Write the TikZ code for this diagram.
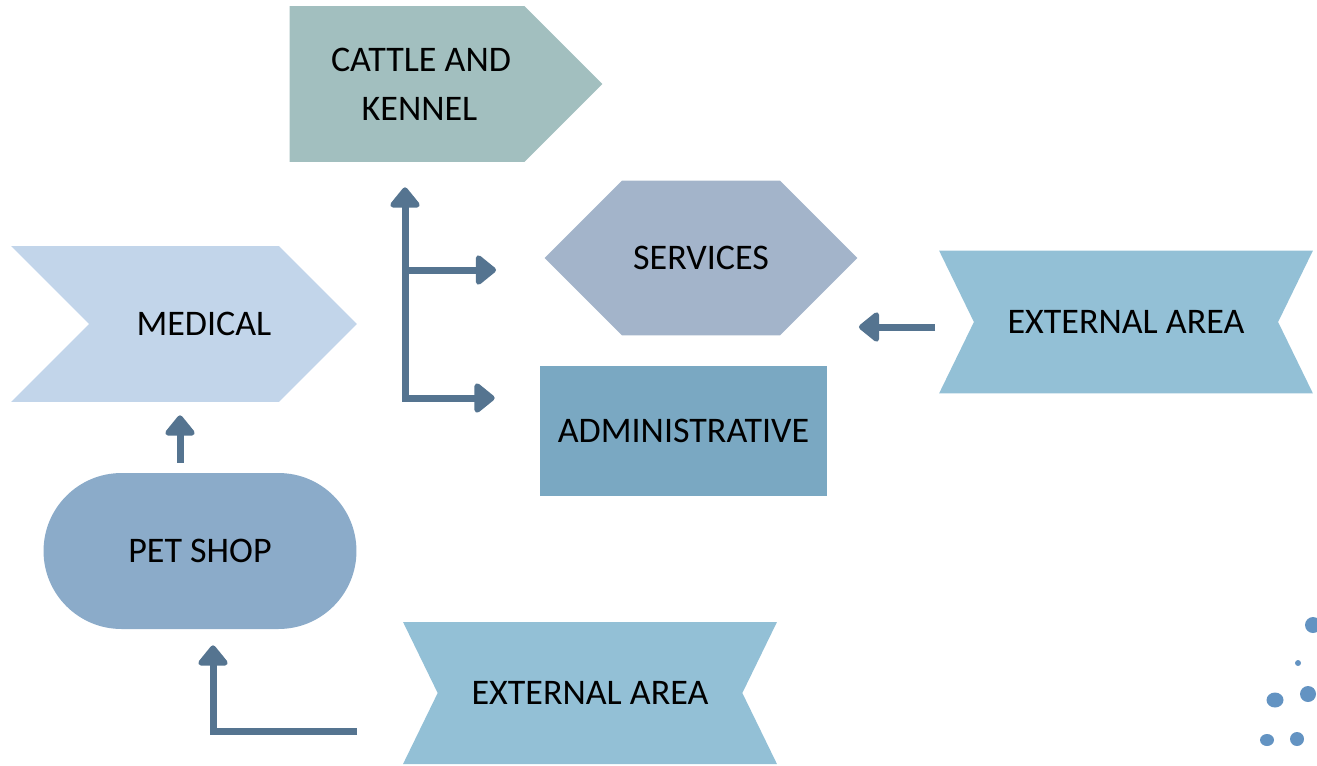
\documentclass[tikz,border=0pt]{standalone}
\usepackage{fontspec}
\setmainfont{Carlito}
\usetikzlibrary{arrows.meta,positioning,shapes.symbols}
\definecolor{cattlecol}{HTML}{A2BFBF}
\definecolor{medcol}{HTML}{C2D5EA}
\definecolor{servcol}{HTML}{A3B4CA}
\definecolor{extcol}{HTML}{93C0D6}
\definecolor{admcol}{HTML}{7AA8C2}
\definecolor{petcol}{HTML}{8BABC9}
\definecolor{arrcol}{HTML}{557490}
\definecolor{dotcol}{HTML}{6393C2}
\tikzset{
  fbox/.style={draw=none, align=center, font=\fontsize{20.5}{28}\selectfont, inner sep=0pt},
  fsig/.style={fbox, shape=signal, signal pointer angle=90, minimum height=3.12cm},
  farr/.style={-{Triangle[length=0.44cm,width=0.68cm,round]}, line width=0.14cm, draw=arrcol},
  farr2/.style={{Triangle[length=0.44cm,width=0.68cm,round]}-{Triangle[length=0.44cm,width=0.68cm,round]}, line width=0.14cm, draw=arrcol}
}
\begin{document}
\begin{tikzpicture}[x=0.02cm, y=-0.02cm]
\useasboundingbox (0,0) rectangle (1317,765);
\node[fsig, fill=cattlecol, signal to=east, minimum width=6.26cm] (cattle) at (407,84) {\hspace*{0.56cm}CATTLE AND\\\hspace*{0.5cm}KENNEL};
\node[fsig, fill=medcol, signal from=west, signal to=east, minimum width=6.92cm] (med) at (184,324) {\hspace*{0.8cm}MEDICAL};
\node[fsig, fill=servcol, signal to=west and east, minimum width=6.26cm, minimum height=3.1cm] (serv) at (701,258) {SERVICES};
\node[fsig, fill=extcol, signal to=nowhere, signal from=west and east, signal pointer angle=128, minimum width=7.48cm, minimum height=2.86cm] (extr) at (1126,322) {EXTERNAL AREA};
\node[fbox, fill=admcol, minimum width=5.74cm, minimum height=2.6cm] (adm) at (683.5,431) {ADMINISTRATIVE};
\node[fbox, fill=petcol, rounded corners=1.56cm, minimum width=6.26cm, minimum height=3.12cm] (pet) at (200,551) {PET SHOP};
\node[fsig, fill=extcol, signal to=nowhere, signal from=west and east, signal pointer angle=128, minimum width=7.48cm, minimum height=2.84cm] (extb) at (590,693) {EXTERNAL AREA};
\coordinate (hub) at (405,398);
\coordinate (fork) at (405,270);
\coordinate (extin) at (935,327);
\coordinate (feed) at (357,731);
\draw[farr2, shorten <=0.5cm, shorten >=0.9cm] (hub |- cattle.south) -- (hub) -- (hub -| adm.west);
\draw[farr, shorten >=0.96cm] (fork) -- (fork -| serv.west);
\draw[farr, shorten >=0.02cm] (extin) -- (extin -| serv.east);
\draw[farr, shorten <=0.2cm, shorten >=0.26cm] ([xshift=-0.4cm]pet.north) -- ([xshift=-0.4cm]pet.north |- med.south);
\draw[farr, shorten >=0.32cm] (feed) -| ([xshift=0.26cm]pet.south);
% dots
\fill[dotcol] (1313,625) circle (0.16cm);
\fill[dotcol] (1298,663) circle (0.06cm);
\fill[dotcol] (1308,694) circle (0.16cm);
\fill[dotcol] (1275,700) ellipse (0.17cm and 0.15cm);
\fill[dotcol] (1267,740) ellipse (0.14cm and 0.12cm);
\fill[dotcol] (1297,739) circle (0.14cm);
\end{tikzpicture}
\end{document}
